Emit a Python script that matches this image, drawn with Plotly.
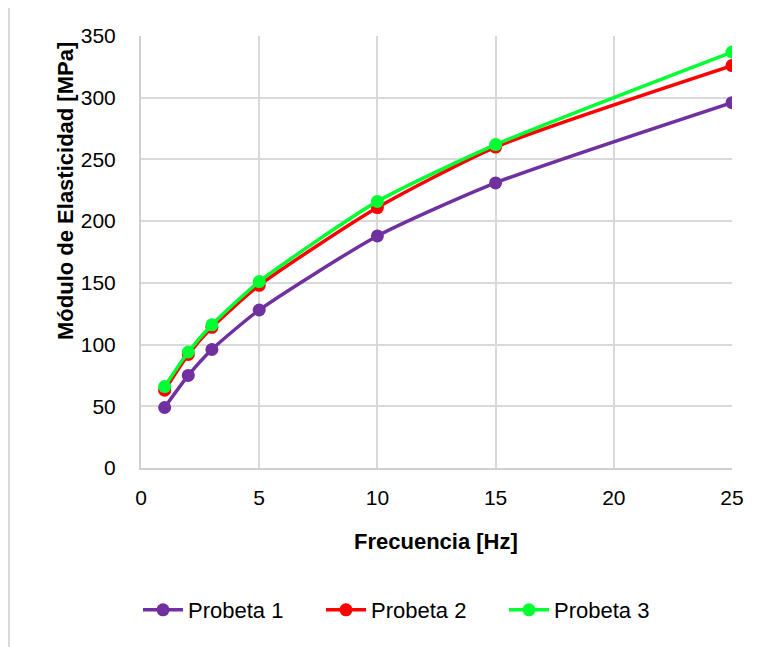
import plotly.graph_objects as go

frecuencia = [1, 2, 3, 5, 10, 15, 25]
probeta_1 = [49, 75, 96, 128, 188, 231, 296]
probeta_2 = [63, 92, 114, 148, 211, 260, 326]
probeta_3 = [66, 94, 116, 151, 216, 262, 337]
series_names = ["Probeta 1", "Probeta 2", "Probeta 3"]
series_colors = ["#7030A0", "#FF0000", "#00FF33"]
x_ticks = [0, 5, 10, 15, 20, 25]
y_ticks = [0, 50, 100, 150, 200, 250, 300, 350]

FONT = "Liberation Sans, Arial, sans-serif"
OFF = 8  # page body margin
W, H = 761 - OFF, 647 - OFF
L, T = 141 - OFF, 36 - OFF
R = W - (732 - OFF)
B = H - (468 - OFF)
PW, PH = W - L - R, H - T - B

def px_x(px):
    return (px - OFF - L) / PW

def px_y(py):
    return (H - B - (py - OFF)) / PH

fig = go.Figure()
for name, vals, col in zip(series_names, [probeta_1, probeta_2, probeta_3], series_colors):
    fig.add_trace(go.Scatter(
        x=frecuencia, y=vals, name=name, mode="lines+markers",
        line=dict(color=col, width=3.5, shape="spline", smoothing=0.6),
        marker=dict(color=col, size=13),
    ))

fig.update_layout(
    width=W, height=H,
    margin=dict(l=L, r=R, t=T, b=B),
    paper_bgcolor="white", plot_bgcolor="white",
    font=dict(family=FONT, size=21, color="black"),
    showlegend=True,
    legend=dict(orientation="h", x=px_x(138), y=px_y(610), xanchor="left", yanchor="middle",
                font=dict(family=FONT, size=22, color="black"),
                entrywidth=128, entrywidthmode="pixels", itemwidth=40, tracegroupgap=0),
    xaxis=dict(range=[0, 25], tickvals=x_ticks, showgrid=True, gridcolor="#d9d9d9", gridwidth=1.5,
               showline=True, linecolor="#d0d0d0", linewidth=2, zeroline=False,
               ticks="", ticklabelstandoff=10, automargin=False),
    yaxis=dict(range=[0, 350], tickvals=y_ticks, showgrid=True, gridcolor="#d9d9d9", gridwidth=1.5,
               showline=True, linecolor="#d0d0d0", linewidth=2, zeroline=False,
               ticks="", ticklabelstandoff=19, automargin=False),
    annotations=[
        dict(text="<b>Frecuencia [Hz]</b>", xref="paper", yref="paper", x=px_x(436), y=px_y(541),
             xanchor="center", yanchor="middle", showarrow=False, font=dict(family=FONT, size=22)),
        dict(text="<b>Módulo de Elasticidad [MPa]</b>", xref="paper", yref="paper", x=px_x(65), y=px_y(191),
             xanchor="center", yanchor="middle", showarrow=False, textangle=-90,
             font=dict(family=FONT, size=22)),
    ],
    shapes=[dict(type="rect", xref="paper", yref="paper", x0=px_x(9), x1=px_x(800), y0=px_y(700), y1=px_y(6),
                 line=dict(color="#d9d9d9", width=2), fillcolor="rgba(0,0,0,0)", layer="below")],
)

fig.write_html("out.html")
